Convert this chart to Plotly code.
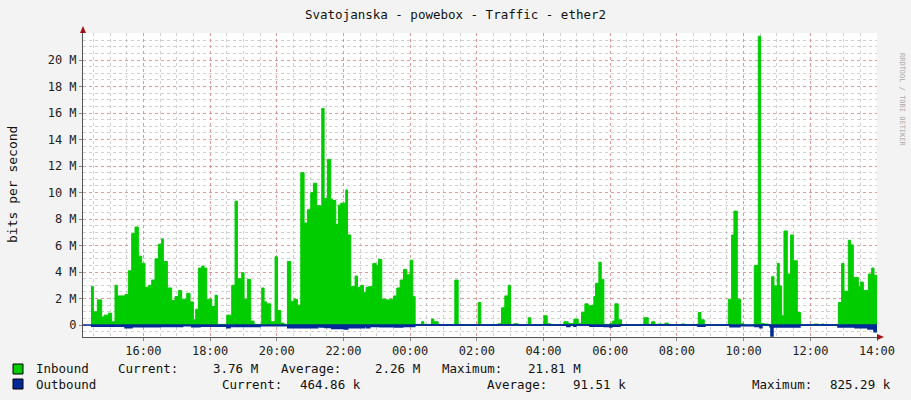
import plotly.graph_objects as go

# hours since 14:00 (day 1) where each step starts, value in Mbit/s
in_t = [0.43, 0.50, 0.62, 0.75, 0.82, 0.95, 1.05, 1.15, 1.22, 1.45, 1.55, 1.65, 1.75, 1.85, 1.95,
        2.05, 2.15, 2.25, 2.35, 2.45, 2.55, 2.60, 2.72, 2.85, 2.95, 3.05, 3.15, 3.30, 3.40, 3.50,
        3.57, 3.65, 3.75, 3.82, 3.90, 4.05, 4.15, 4.22, 4.50, 4.65, 4.75, 4.82, 4.95, 5.02, 5.12,
        5.22, 5.32, 5.55, 5.62, 5.70, 5.82, 5.95, 6.02, 6.12, 6.22, 6.32, 6.42, 6.52, 6.62, 6.72,
        6.82, 6.92, 7.02, 7.10, 7.20, 7.35, 7.42, 7.52, 7.62, 7.68, 7.77, 7.85, 7.92, 8.07, 8.12,
        8.22, 8.35, 8.42, 8.52, 8.60, 8.68, 8.75, 8.88, 8.98, 9.05, 9.15, 9.28, 9.40, 9.50, 9.60,
        9.70, 9.80, 9.90, 10.00, 10.08, 10.15,
        10.34, 10.41, 10.64, 10.71, 10.84, 11.34, 11.44, 12.04, 12.12, 12.64, 12.74, 12.84, 12.94,
        13.01, 13.11, 13.24, 13.54, 13.62, 14.01, 14.11, 14.21, 14.61, 14.74, 14.91, 15.04, 15.14,
        15.24, 15.34, 15.44, 15.51, 15.56, 15.66, 15.73, 15.81, 15.99, 16.06, 16.14, 16.24, 16.34,
        17.01, 17.14, 17.24, 17.34, 17.44, 17.54, 17.64, 17.74, 18.14, 18.24, 18.64, 18.72, 18.82,
        19.54, 19.64, 19.71, 19.81, 19.91, 20.01, 20.32, 20.44, 20.51, 20.61, 20.74, 20.84, 20.91,
        21.01, 21.07, 21.14, 21.21, 21.31, 21.41, 21.49, 21.61, 21.71, 22.11, 22.24, 22.34, 22.41,
        22.84, 22.94, 23.01, 23.14, 23.21, 23.29, 23.44, 23.51, 23.59, 23.74, 23.84, 23.91, 24.0]
in_v = [2.9, 1.0, 1.9, 0.6, 0.75, 0.9, 0.25, 3.0, 2.2, 2.3, 4.1, 6.9, 7.4, 5.2, 4.65,
        2.85, 3.0, 3.4, 5.0, 6.1, 6.5, 4.8, 2.8, 1.85, 2.15, 2.6, 1.95, 2.4, 1.75, 0.4,
        1.2, 4.3, 4.45, 4.3, 1.95, 1.4, 2.25, 0.05, 0.75, 3.0, 9.35, 3.5, 3.95, 1.95, 3.45,
        0.3, 0.05, 2.8, 1.75, 1.6, 0.25, 5.15, 1.1, 0.15, 0.05, 4.8, 1.8, 1.95, 1.5, 11.5,
        7.7, 8.7, 10.0, 10.7, 9.0, 16.35, 9.55, 12.5, 9.5, 9.4, 7.6, 9.05, 9.2, 10.2, 6.8,
        2.9, 3.7, 2.85, 3.0, 2.45, 2.85, 2.9, 4.65, 4.5, 4.95, 1.95, 1.9, 1.95, 2.2, 2.8,
        3.4, 4.2, 3.8, 4.9, 2.15, 0.05,
        0.25, 0.05, 0.45, 0.25, 0.0, 3.4, 0.0, 1.7, 0.0, 0.1, 1.3, 2.2, 3.0,
        0.0, 0.1, 0.0, 0.55, 0.0, 0.7, 0.1, 0.0, 0.25, 0.12, 0.45, 0.1, 0.95,
        1.6, 1.45, 1.5, 2.15, 3.15, 4.75, 3.45, 0.02, 0.12, 0.3, 1.6, 0.4, 0.0,
        0.55, 0.05, 0.25, 0.05, 0.08, 0.05, 0.15, 0.0, 0.08, 0.0, 0.95, 0.4, 0.0,
        1.95, 6.8, 8.6, 1.95, 0.1, 0.0, 4.5, 21.8, 0.12, 0.08, 0.0, 3.65, 2.95,
        4.65, 2.95, 0.7, 7.1, 3.85, 6.8, 4.85, 0.95, 0.0, 0.08, 0.0, 0.08, 0.0,
        1.7, 4.65, 2.55, 6.4, 6.05, 3.6, 2.9, 3.25, 2.6, 3.85, 4.3, 3.75, 3.75]

out_t = [0.43, 1.45, 1.66, 2.5, 3.18, 3.45, 3.7, 4.5, 4.6, 5.5, 6.33, 6.69, 7.23, 7.29, 7.44,
         7.65, 8.04, 8.13, 8.64, 8.7, 8.79, 9.09, 9.54, 9.78, 10.14, 14.7, 14.79, 14.91, 14.97,
         15.39, 15.81, 15.99, 16.05, 16.29, 18.63, 18.84, 19.59, 19.89, 20.34, 20.49, 20.55,
         20.79, 20.82, 20.88, 21.69, 22.83, 23.34, 23.73, 23.91, 24.0]
out_v = [0.08, 0.2, 0.12, 0.1, 0.05, 0.12, 0.08, 0.2, 0.1, 0.06, 0.2, 0.2, 0.1, 0.15, 0.18,
         0.25, 0.3, 0.2, 0.1, 0.2, 0.1, 0.12, 0.15, 0.1, 0.0, 0.1, 0.0, 0.08, 0.0,
         0.08, 0.1, 0.15, 0.08, 0.0, 0.08, 0.0, 0.12, 0.05, 0.1, 0.2, 0.0,
         0.12, 0.83, 0.15, 0.0, 0.15, 0.2, 0.3, 0.5, 0.5]

tick_hours = [2, 4, 6, 8, 10, 12, 14, 16, 18, 20, 22, 24]
tick_labels = ["16:00", "18:00", "20:00", "22:00", "00:00", "02:00", "04:00", "06:00",
               "08:00", "10:00", "12:00", "14:00"]
y_ticks = [0, 2, 4, 6, 8, 10, 12, 14, 16, 18, 20]
y_labels = ["0"] + [f"{v} M" for v in y_ticks[1:]]

GREEN = "#00CC00"
BLUE = "#002A97"
MONO = "DejaVu Sans Mono"

# plot area in pixels
L, R, T, B = 83, 877, 33, 337


def px(x):
    return (x - L) / (R - L)


def py(y):
    return (B - y) / (B - T)


fig = go.Figure()
fig.add_trace(go.Scatter(x=in_t, y=in_v, mode="lines", line=dict(shape="hv", width=1, color=GREEN),
                         fill="tozeroy", fillcolor=GREEN, hoverinfo="skip"))
fig.add_trace(go.Scatter(x=out_t, y=[-v for v in out_v], mode="lines",
                         line=dict(shape="hv", width=1.5, color=BLUE),
                         fill="tozeroy", fillcolor=BLUE, hoverinfo="skip"))
fig.add_trace(go.Scatter(x=[0.19, 24.0], y=[0, 0], mode="lines", line=dict(color=BLUE, width=1.5),
                         hoverinfo="skip"))

major = "rgba(235,110,110,0.55)"
minor = "rgba(170,170,170,0.55)"
fig.update_xaxes(range=[0.19, 24.0], tickvals=tick_hours, ticktext=tick_labels, automargin=False,
                 showgrid=True, gridcolor=major, griddash="dot", gridwidth=1,
                 minor=dict(dtick=0.5, tick0=0, showgrid=True, gridcolor=minor, griddash="dot"),
                 showline=True, linecolor="#555", linewidth=1, zeroline=False,
                 ticks="outside", ticklen=3, tickcolor="#888",
                 tickfont=dict(family=MONO, size=12, color="#222"))
fig.update_yaxes(range=[-0.9, 22.04], tickvals=y_ticks, ticktext=y_labels, automargin=False,
                 showgrid=True, gridcolor=major, griddash="dot", gridwidth=1,
                 minor=dict(dtick=0.5, tick0=0, showgrid=True, gridcolor=minor, griddash="dot"),
                 showline=True, linecolor="#555", linewidth=1, zeroline=False,
                 ticks="outside", ticklen=3, tickcolor="#888",
                 tickfont=dict(family=MONO, size=12, color="#222"))

ann = [
    dict(x=px(455), y=py(14), text="Svatojanska - powebox - Traffic - ether2", xanchor="center",
         font=dict(size=12.5)),
    dict(x=px(12), y=py(185), text="bits per second", textangle=-90, xanchor="center",
         font=dict(size=13)),
    dict(x=px(902), y=py(100), text="RRDTOOL / TOBI OETIKER", textangle=90, xanchor="center",
         font=dict(size=7, color="#AAAAAA")),
]
legend_items = [
    (34, 369, "Inbound"), (116, 369, "Current:"), (260, 369, "3.76 M", "right"),
    (279, 369, "Average:"), (422, 369, "2.26 M", "right"), (440, 369, "Maximum:"),
    (583, 369, "21.81 M", "right"),
    (34, 384, "Outbound"), (220, 384, "Current:"), (363, 384, "464.86 k", "right"),
    (485, 384, "Average:"), (628, 384, "91.51 k", "right"), (750, 384, "Maximum:"),
    (893, 384, "825.29 k", "right"),
]
for item in legend_items:
    ann.append(dict(x=px(item[0]), y=py(item[1]), text=item[2],
                    xanchor=item[3] if len(item) > 3 else "left", font=dict(size=12.5)))
for a in ann:
    a.update(xref="paper", yref="paper", showarrow=False, yanchor="middle")
    a["font"] = dict(family=MONO, color=a["font"].get("color", "#111"), size=a["font"]["size"])

shapes = []
for yy, col in [(369, GREEN), (384, BLUE)]:
    shapes.append(dict(type="rect", xref="paper", yref="paper", x0=px(13), x1=px(23),
                       y0=py(yy + 5), y1=py(yy - 5), fillcolor=col, line=dict(color="#000", width=1)))
# axis arrows
shapes.append(dict(type="path", xref="paper", yref="paper",
                   path=f"M {px(877)},{py(334)} L {px(884)},{py(337)} L {px(877)},{py(340)} Z",
                   fillcolor="#A01010", line=dict(width=0)))
shapes.append(dict(type="path", xref="paper", yref="paper",
                   path=f"M {px(80)},{py(33)} L {px(83)},{py(26)} L {px(86)},{py(33)} Z",
                   fillcolor="#A01010", line=dict(width=0)))

fig.update_layout(width=911, height=400, margin=dict(l=L, r=911 - R, t=T, b=400 - B),
                  paper_bgcolor="#F3F3F3", plot_bgcolor="#FFFFFF", showlegend=False,
                  annotations=ann, shapes=shapes, font=dict(family=MONO))

fig.write_html("out.html", config={"displayModeBar": False},
               post_script="document.body.style.margin='0';")
